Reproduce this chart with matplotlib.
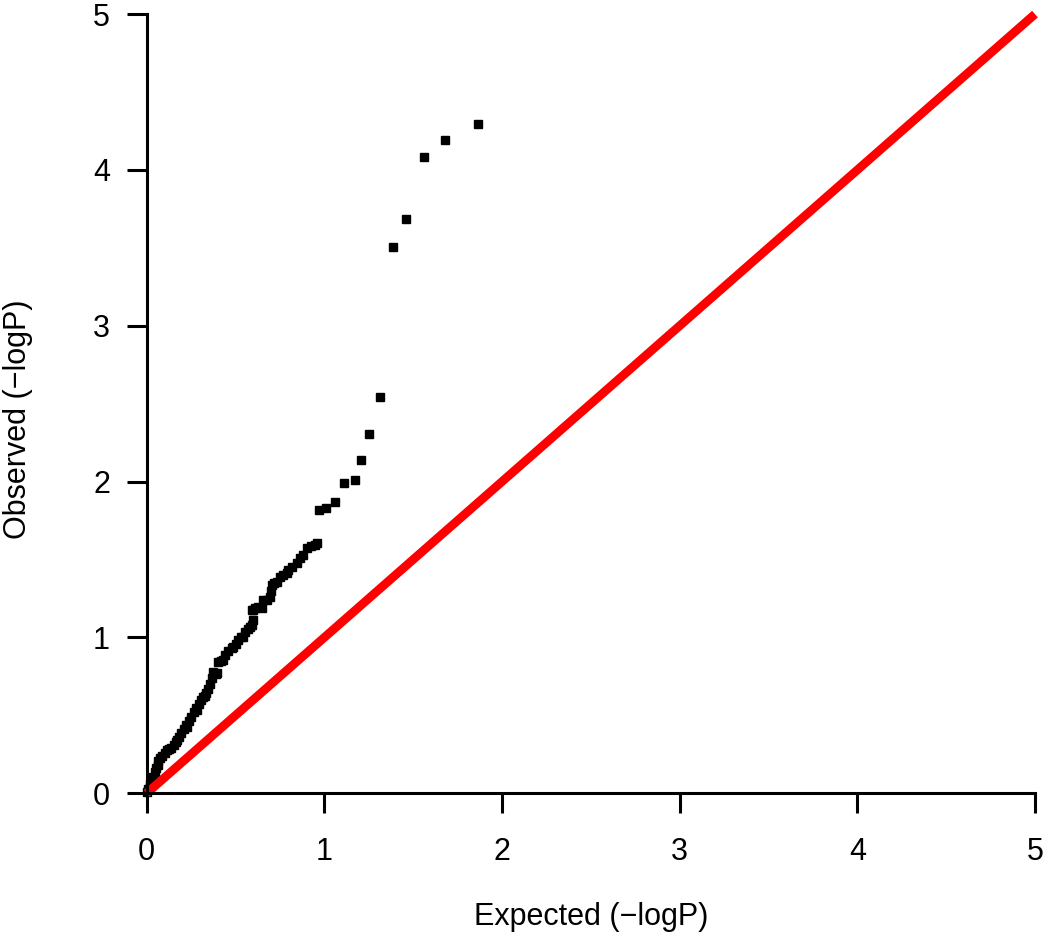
import matplotlib
matplotlib.use("Agg")
import matplotlib.pyplot as plt

plt.rcParams['font.family'] = ['Liberation Sans', 'DejaVu Sans']

# expected vs observed -logP (dense lower band + sparse tail)
expected = [0.004, 0.010, 0.017, 0.019, 0.026, 0.037, 0.045, 0.055, 0.064, 0.066,
            0.073, 0.085, 0.101, 0.113, 0.125, 0.139, 0.153, 0.167, 0.169, 0.182,
            0.195, 0.209, 0.223, 0.225, 0.237, 0.251, 0.265, 0.279, 0.281, 0.293,
            0.307, 0.319, 0.328, 0.336, 0.345, 0.356, 0.365, 0.375, 0.389, 0.394,
            0.403, 0.420, 0.431, 0.441, 0.460, 0.478, 0.487, 0.500, 0.516, 0.530,
            0.544, 0.553, 0.570, 0.581, 0.591, 0.600,
            0.591, 0.600, 0.612, 0.628, 0.647, 0.656, 0.675, 0.694, 0.700, 0.703,
            0.718, 0.731, 0.750, 0.765, 0.788, 0.797, 0.820, 0.844, 0.862, 0.881,
            0.900, 0.925, 0.947, 0.957,
            0.97, 1.01, 1.06, 1.11, 1.17, 1.204, 1.253, 1.313, 1.386, 1.461,
            1.562, 1.680, 1.864]
observed = [0.010, 0.030, 0.043, 0.060, 0.096, 0.107, 0.139, 0.160, 0.182, 0.205,
            0.225, 0.240, 0.257, 0.278, 0.282, 0.289, 0.310, 0.331, 0.342, 0.358,
            0.385, 0.410, 0.438, 0.428, 0.465, 0.492, 0.520, 0.546, 0.535, 0.575,
            0.599, 0.620, 0.625, 0.642, 0.670, 0.700, 0.740, 0.780, 0.765, 0.770,
            0.845, 0.850, 0.856, 0.888, 0.910, 0.931, 0.941, 0.960, 0.984, 1.000,
            1.005, 1.037, 1.055, 1.070, 1.080, 1.112,
            1.176, 1.176, 1.190, 1.198, 1.187, 1.241, 1.241, 1.262, 1.300, 1.337,
            1.350, 1.358, 1.390, 1.400, 1.412, 1.433, 1.455, 1.476, 1.510, 1.530,
            1.573, 1.585, 1.594, 1.605,
            1.82, 1.83, 1.87, 1.99, 2.01, 2.139, 2.306, 2.542, 3.506, 3.686,
            4.082, 4.189, 4.296]

diag = [0, 5]
ticks = [0, 1, 2, 3, 4, 5]

fig = plt.figure(figsize=(10.5, 9.41), dpi=100)
ax = fig.add_axes([0.1397, 0.157, 0.846, 0.828])

ax.plot(expected, observed, 's', color='black', markersize=5.5, clip_on=False)
ax.plot(diag, diag, color='#ff0000', lw=6.3, solid_capstyle='butt', clip_on=False)

ax.set_xlim(0, 5)
ax.set_ylim(0, 5)
ax.set_xticks(ticks)
ax.set_yticks(ticks)
ax.spines['top'].set_visible(False)
ax.spines['right'].set_visible(False)
for s in ['left', 'bottom']:
    ax.spines[s].set_linewidth(2.2)
ax.tick_params(axis='both', width=2.2, length=14.5, labelsize=22)
ax.tick_params(axis='x', pad=17)
ax.tick_params(axis='y', pad=12)

ax.set_xlabel('Expected (\u2212logP)', fontsize=22)
ax.set_ylabel('Observed (\u2212logP)', fontsize=22)
ax.xaxis.set_label_coords(0.5, -0.14)
ax.yaxis.set_label_coords(-0.128, 0.48)

fig.savefig('out.png', dpi=100)
